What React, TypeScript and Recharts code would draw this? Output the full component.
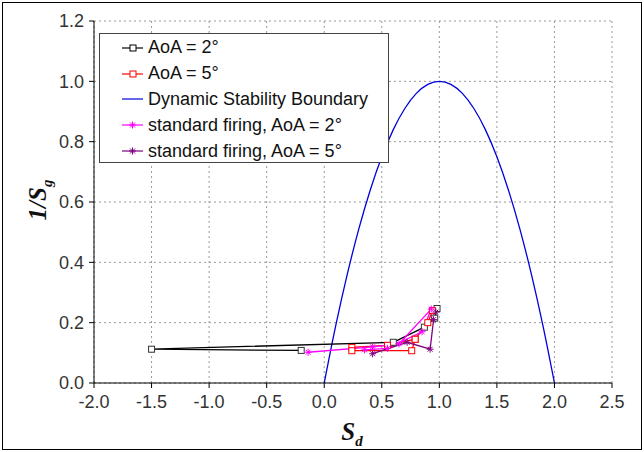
import React from 'react';
import { LineChart, Line, XAxis, YAxis, CartesianGrid } from 'recharts';

// series values (Sd, 1/Sg)
const aoa2X = [-0.2, -1.5, 0.6, 0.87, 0.96, 0.98];
const aoa2Y = [0.108, 0.112, 0.135, 0.185, 0.215, 0.247];

const aoa5X = [0.94, 0.9, 0.79, 0.55, 0.24, 0.24, 0.76, 0.79];
const aoa5Y = [0.24, 0.2, 0.145, 0.125, 0.118, 0.107, 0.107, 0.145];

const boundaryX = [0, 0.1, 0.2, 0.3, 0.4, 0.5, 0.6, 0.7, 0.8, 0.9, 1.0, 1.1, 1.2, 1.3, 1.4, 1.5, 1.6, 1.7, 1.8, 1.9, 2.0];
const boundaryY = [0, 0.19, 0.36, 0.51, 0.64, 0.75, 0.84, 0.91, 0.96, 0.99, 1.0, 0.99, 0.96, 0.91, 0.84, 0.75, 0.64, 0.51, 0.36, 0.19, 0];

const std2X = [-0.14, 0.42, 0.65, 0.93, 0.85, 0.55, 0.35];
const std2Y = [0.102, 0.12, 0.13, 0.245, 0.17, 0.115, 0.11];

const std5X = [0.42, 0.72, 0.92, 0.95, 0.97];
const std5Y = [0.097, 0.135, 0.112, 0.21, 0.235];

const xTicks = [-2.0, -1.5, -1.0, -0.5, 0.0, 0.5, 1.0, 1.5, 2.0, 2.5];
const yTicks = [0.0, 0.2, 0.4, 0.6, 0.8, 1.0, 1.2];

const zip = (xs: number[], ys: number[]) => xs.map((x, i) => ({ x, y: ys[i] }));

const legendItems = [
  { name: 'AoA = 2°', color: '#000000', marker: 'square' },
  { name: 'AoA = 5°', color: '#ff0000', marker: 'square' },
  { name: 'Dynamic Stability Boundary', color: '#0000dd', marker: 'none' },
  { name: 'standard firing, AoA = 2°', color: '#ff00ff', marker: 'star' },
  { name: 'standard firing, AoA = 5°', color: '#800080', marker: 'star' },
];

const SquareDot = (color: string) => (props: any) => {
  const { cx, cy, index } = props;
  if (cx == null || cy == null) return null;
  return <rect key={index} x={cx - 3} y={cy - 3} width={6} height={6} fill="#fff" stroke={color} strokeWidth={1} />;
};

const StarDot = (color: string) => (props: any) => {
  const { cx, cy, index } = props;
  if (cx == null || cy == null) return null;
  const r = 3.5;
  return (
    <g key={index} stroke={color} strokeWidth={1}>
      <line x1={cx - r} y1={cy} x2={cx + r} y2={cy} />
      <line x1={cx} y1={cy - r} x2={cx} y2={cy + r} />
      <line x1={cx - r * 0.7} y1={cy - r * 0.7} x2={cx + r * 0.7} y2={cy + r * 0.7} />
      <line x1={cx - r * 0.7} y1={cy + r * 0.7} x2={cx + r * 0.7} y2={cy - r * 0.7} />
    </g>
  );
};

const MarkerIcon = ({ color, marker }: { color: string; marker: string }) => (
  <svg width={21} height={10} style={{ marginRight: 5 }}>
    <line x1={0} y1={5} x2={21} y2={5} stroke={color} strokeWidth={1.2} />
    {marker === 'square' && <rect x={8} y={2} width={6} height={6} fill="#fff" stroke={color} />}
    {marker === 'star' && (
      <g stroke={color}>
        <line x1={7} y1={5} x2={14} y2={5} />
        <line x1={10.5} y1={1.5} x2={10.5} y2={8.5} />
        <line x1={8} y1={2.5} x2={13} y2={7.5} />
        <line x1={8} y1={7.5} x2={13} y2={2.5} />
      </g>
    )}
  </svg>
);

const ChartLegend = () => (
  <div
    style={{
      position: 'absolute',
      left: 99,
      top: 33,
      width: 290,
      height: 130,
      border: '1px solid #444',
      background: '#fff',
      boxSizing: 'border-box',
      padding: '1px 0 0 22px',
      fontFamily: '"Liberation Sans", Arial, sans-serif',
      fontSize: 18,
      color: '#111',
    }}
  >
    {legendItems.map((item, i) => (
      <div key={i} style={{ display: 'flex', alignItems: 'center', height: 25.8 }}>
        <MarkerIcon color={item.color} marker={item.marker} />
        <span>{item.name}</span>
      </div>
    ))}
  </div>
);

const tickStyle = { fontFamily: '"Liberation Sans", Arial, sans-serif', fontSize: 18, fill: '#333' };

const axisTitle: React.CSSProperties = {
  position: 'absolute',
  fontFamily: '"Liberation Serif", "Times New Roman", serif',
  fontWeight: 'bold',
  fontStyle: 'italic',
  fontSize: 25,
  whiteSpace: 'nowrap',
  color: '#111',
};

export default function App() {
  return (
    <div style={{ position: 'absolute', left: 0, top: 0, width: 644, height: 452, background: '#fff' }}>
      <div
        style={{
          position: 'absolute',
          left: 2,
          top: 2,
          width: 638,
          height: 446,
          border: '1px solid #000',
          pointerEvents: 'none',
        }}
      />
      <LineChart width={644} height={452} margin={{ top: 21, right: 32, bottom: 0, left: 34 }}>
        <CartesianGrid stroke="#999" strokeDasharray="2 3" />
        <XAxis
          type="number"
          dataKey="x"
          domain={[-2, 2.5]}
          ticks={xTicks}
          allowDataOverflow
          tickFormatter={(v: number) => v.toFixed(1)}
          tick={tickStyle}
          tickSize={5}
          tickMargin={7}
          height={69}
          stroke="#000"
        />
        <YAxis
          type="number"
          dataKey="y"
          domain={[0, 1.2]}
          ticks={yTicks}
          allowDataOverflow
          tickFormatter={(v: number) => v.toFixed(1)}
          tick={tickStyle}
          tickSize={5}
          tickMargin={5}
          width={60}
          stroke="#000"
        />
        <XAxis xAxisId="top" orientation="top" type="number" domain={[-2, 2.5]} tick={false} tickLine={false} height={0} stroke="#000" />
        <YAxis yAxisId="right" orientation="right" type="number" domain={[0, 1.2]} tick={false} tickLine={false} width={0} stroke="#000" />
        <Line
          data={zip(boundaryX, boundaryY)}
          dataKey="y"
          name="Dynamic Stability Boundary"
          type="monotone"
          stroke="#0000dd"
          strokeWidth={1.3}
          dot={false}
          isAnimationActive={false}
        />
        <Line
          data={zip(aoa2X, aoa2Y)}
          dataKey="y"
          name="AoA = 2°"
          type="linear"
          stroke="#000"
          strokeWidth={1.3}
          dot={SquareDot('#333')}
          isAnimationActive={false}
        />
        <Line
          data={zip(aoa5X, aoa5Y)}
          dataKey="y"
          name="AoA = 5°"
          type="linear"
          stroke="#ff0000"
          strokeWidth={1.3}
          dot={SquareDot('#ff0000')}
          isAnimationActive={false}
        />
        <Line
          data={zip(std2X, std2Y)}
          dataKey="y"
          name="standard firing, AoA = 2°"
          type="linear"
          stroke="#ff00ff"
          strokeWidth={1.3}
          dot={StarDot('#ff00ff')}
          isAnimationActive={false}
        />
        <Line
          data={zip(std5X, std5Y)}
          dataKey="y"
          name="standard firing, AoA = 5°"
          type="linear"
          stroke="#800080"
          strokeWidth={1.3}
          dot={StarDot('#800080')}
          isAnimationActive={false}
        />
      </LineChart>
      <ChartLegend />
      <div style={{ ...axisTitle, left: 40, top: 200, transform: 'translate(-50%, -50%) rotate(-90deg)' }}>
        1/S<sub style={{ fontSize: 15 }}>g</sub>
      </div>
      <div style={{ ...axisTitle, left: 352, top: 434, transform: 'translate(-50%, -50%)' }}>
        S<sub style={{ fontSize: 15 }}>d</sub>
      </div>
    </div>
  );
}
